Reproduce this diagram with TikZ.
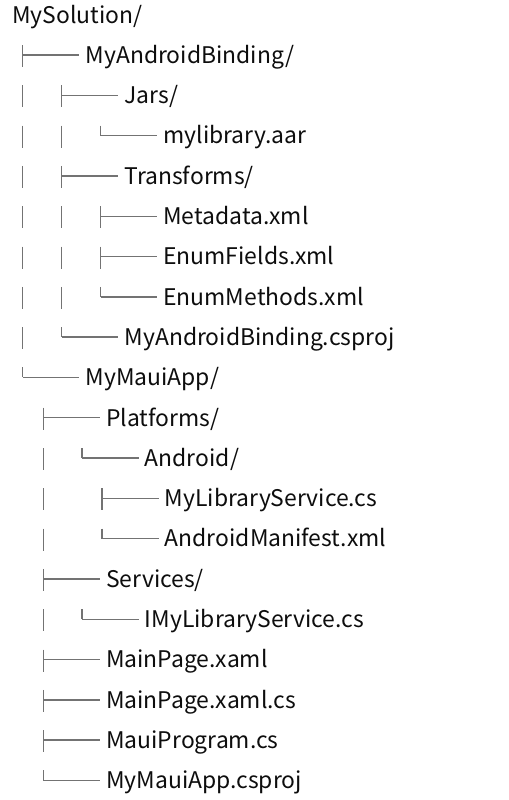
\documentclass[tikz,border=0pt]{standalone}
\usepackage{fontspec}
\newfontfamily\treefont{Noto Sans CJK SC}
\usetikzlibrary{positioning}

\begin{document}
\begin{tikzpicture}[x=0.5pt, y=-20.15pt,
  entry/.style={anchor=base west, inner sep=0pt, yshift=-4.15pt,
    font=\treefont\fontsize{11.45}{13}\selectfont, text=black!95},
  branch/.style={draw=black!55, line width=0.7pt}]
  % page frame (508 x 800 px, rows 40.3 px apart)
  \useasboundingbox (0,-0.365) rectangle (508,19.486);

  % Root folder
  \node[entry] (sol) at (12,0) {MySolution/};

  % Binding project
  \node[entry] (bind)    at (85.2,1)  {MyAndroidBinding/};
  \node[entry] (jars)    at (124.2,2) {Jars/};
  \node[entry] (aar)     at (163,3)   {mylibrary.aar};
  \node[entry] (trans)   at (124.2,4) {Transforms/};
  \node[entry] (meta)    at (163,5)   {Metadata.xml};
  \node[entry] (fields)  at (163,6)   {EnumFields.xml};
  \node[entry] (methods) at (163,7)   {EnumMethods.xml};
  \node[entry] (csproj)  at (124.2,8) {MyAndroidBinding.csproj};

  % MAUI app
  \node[entry] (maui)     at (85.2,9)   {MyMauiApp/};
  \node[entry] (plat)     at (105.8,10) {Platforms/};
  \node[entry] (andr)     at (144.5,11) {Android/};
  \node[entry] (svc)      at (164.5,12) {MyLibraryService.cs};
  \node[entry] (manifest) at (164.5,13) {AndroidManifest.xml};
  \node[entry] (services) at (105.8,14) {Services/};
  \node[entry] (isvc)     at (144.5,15) {IMyLibraryService.cs};
  \node[entry] (page)     at (105.8,16) {MainPage.xaml};
  \node[entry] (pagecs)   at (105.8,17) {MainPage.xaml.cs};
  \node[entry] (prog)     at (105.8,18) {MauiProgram.cs};
  \node[entry] (mauiproj) at (105.8,19) {MyMauiApp.csproj};

  % Vertical pipes (tee rows and pass-through rows)
  \foreach \x/\r in {22.7/1, 22.7/2, 22.7/3, 22.7/4, 22.7/5, 22.7/6, 22.7/7, 22.7/8,
                     61.7/2, 61.7/3, 61.7/4, 61.7/5, 61.7/6, 61.7/7,
                     100.5/5, 100.5/6,
                     43.3/10, 43.3/11, 43.3/12, 43.3/13, 43.3/14, 43.3/15,
                     43.3/16, 43.3/17, 43.3/18, 102/12}
    \draw[branch] (\x,\r-0.248) -- (\x,\r+0.298);

  % Last-child corners
  \foreach \x/\r in {100.5/3, 100.5/7, 61.7/8, 22.7/9, 82/11, 102/13, 82/15, 43.3/19}
    \draw[branch] (\x,\r-0.248) -- (\x,\r);

  % Horizontal dashes up to each entry
  \foreach \x/\r in {22.7/1, 61.7/2, 100.5/3, 61.7/4, 100.5/5, 100.5/6, 100.5/7,
                     61.7/8, 22.7/9, 43.3/10, 82/11, 102/12, 102/13, 43.3/14,
                     82/15, 43.3/16, 43.3/17, 43.3/18, 43.3/19}
    \draw[branch] (\x,\r) -- +(56.5,0);
\end{tikzpicture}
\end{document}
